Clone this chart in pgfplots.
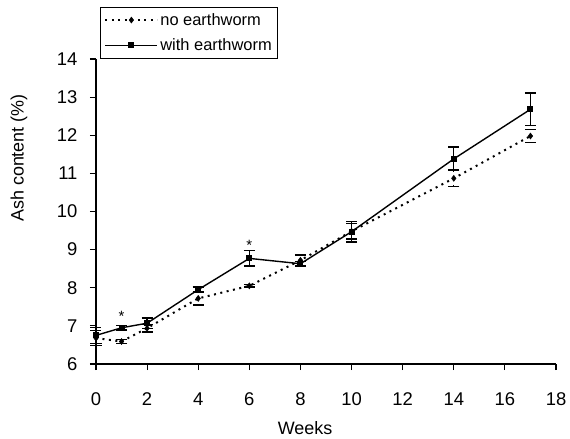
\documentclass[border=0pt]{standalone}
\usepackage{pgfplots}
\pgfplotsset{compat=1.18}
\usepackage{fontspec}
\setmainfont{Liberation Sans}

\begin{document}
\begin{tikzpicture}
\begin{axis}[
    width=460bp, height=305bp,
    scale only axis,
    axis lines=left,
    axis line style={-, line width=1.1pt},
    xmin=0, xmax=18, ymin=6, ymax=14,
    xtick={0,2,...,18}, ytick={6,7,...,14},
    tick align=outside,
    tick style={line width=1.1pt, black},
    major tick length=6bp,
    /pgf/number format/assume math mode=true,
    tick label style={font=\fontsize{18.5}{22}\selectfont},
    xticklabel style={yshift=-19bp},
    yticklabel style={xshift=-9bp},
    clip=false,
    legend style={at={(4bp,357bp)}, anchor=north west, draw=black, line width=0.8pt,
        font=\fontsize{16.5}{19}\selectfont, row sep=8pt, inner sep=4pt,
        /tikz/every even column/.append style={column sep=3pt}},
    legend cell align=left,
    legend image code/.code={
        \draw[mark repeat=2, mark phase=2, #1] plot coordinates {(0bp,0bp) (26bp,0bp) (52bp,0bp)};
    },
    error bars/error bar style={line width=1.3pt, black},
    error bars/error mark options={rotate=90, mark size=5.5bp, line width=1.3pt},
]
\addplot[black, line width=2pt, dash pattern=on 2bp off 4.5bp, mark=diamond*, mark size=3bp,
    mark options={solid, line width=0.5pt},
    error bars/.cd, y dir=both, y explicit] coordinates {
    (0,6.68) +- (0,0.2)
    (1,6.59) +- (0,0.05)
    (2,6.94) +- (0,0.1)
    (4,7.72) +- (0,0.17)
    (6,8.05) +- (0,0.03)
    (8,8.72) +- (0,0.14)
    (10,9.48) +- (0,0.2)
    (14,10.87) +- (0,0.22)
    (17,11.98) +- (0,0.17)
};
\addlegendentry{no earthworm}
\addplot[black, line width=1.4pt, solid, mark=square*, mark size=2.3bp,
    error bars/.cd, y dir=both, y explicit] coordinates {
    (0,6.75) +- (0,0.21)
    (1,6.95) +- (0,0.06)
    (2,7.07) +- (0,0.14)
    (4,7.95) +- (0,0.07)
    (6,8.77) +- (0,0.2)
    (8,8.63) +- (0,0.06)
    (10,9.47) +- (0,0.27)
    (14,11.38) +- (0,0.31)
    (17,12.68) +- (0,0.43)
};
\addlegendentry{with earthworm}
\node[font=\fontsize{15}{17}\selectfont] at (axis cs:1,7.25) {*};
\node[font=\fontsize{15}{17}\selectfont] at (axis cs:6,9.1) {*};
\end{axis}
\node[rotate=90, font=\fontsize{18}{21}\selectfont] at (-77bp,206bp) {Ash content (\%)};
\node[font=\fontsize{18}{21}\selectfont] at (209bp,-64bp) {Weeks};
\pgfresetboundingbox
\useasboundingbox (-96bp,-75bp) rectangle (474bp,364bp);
\end{tikzpicture}
\end{document}
